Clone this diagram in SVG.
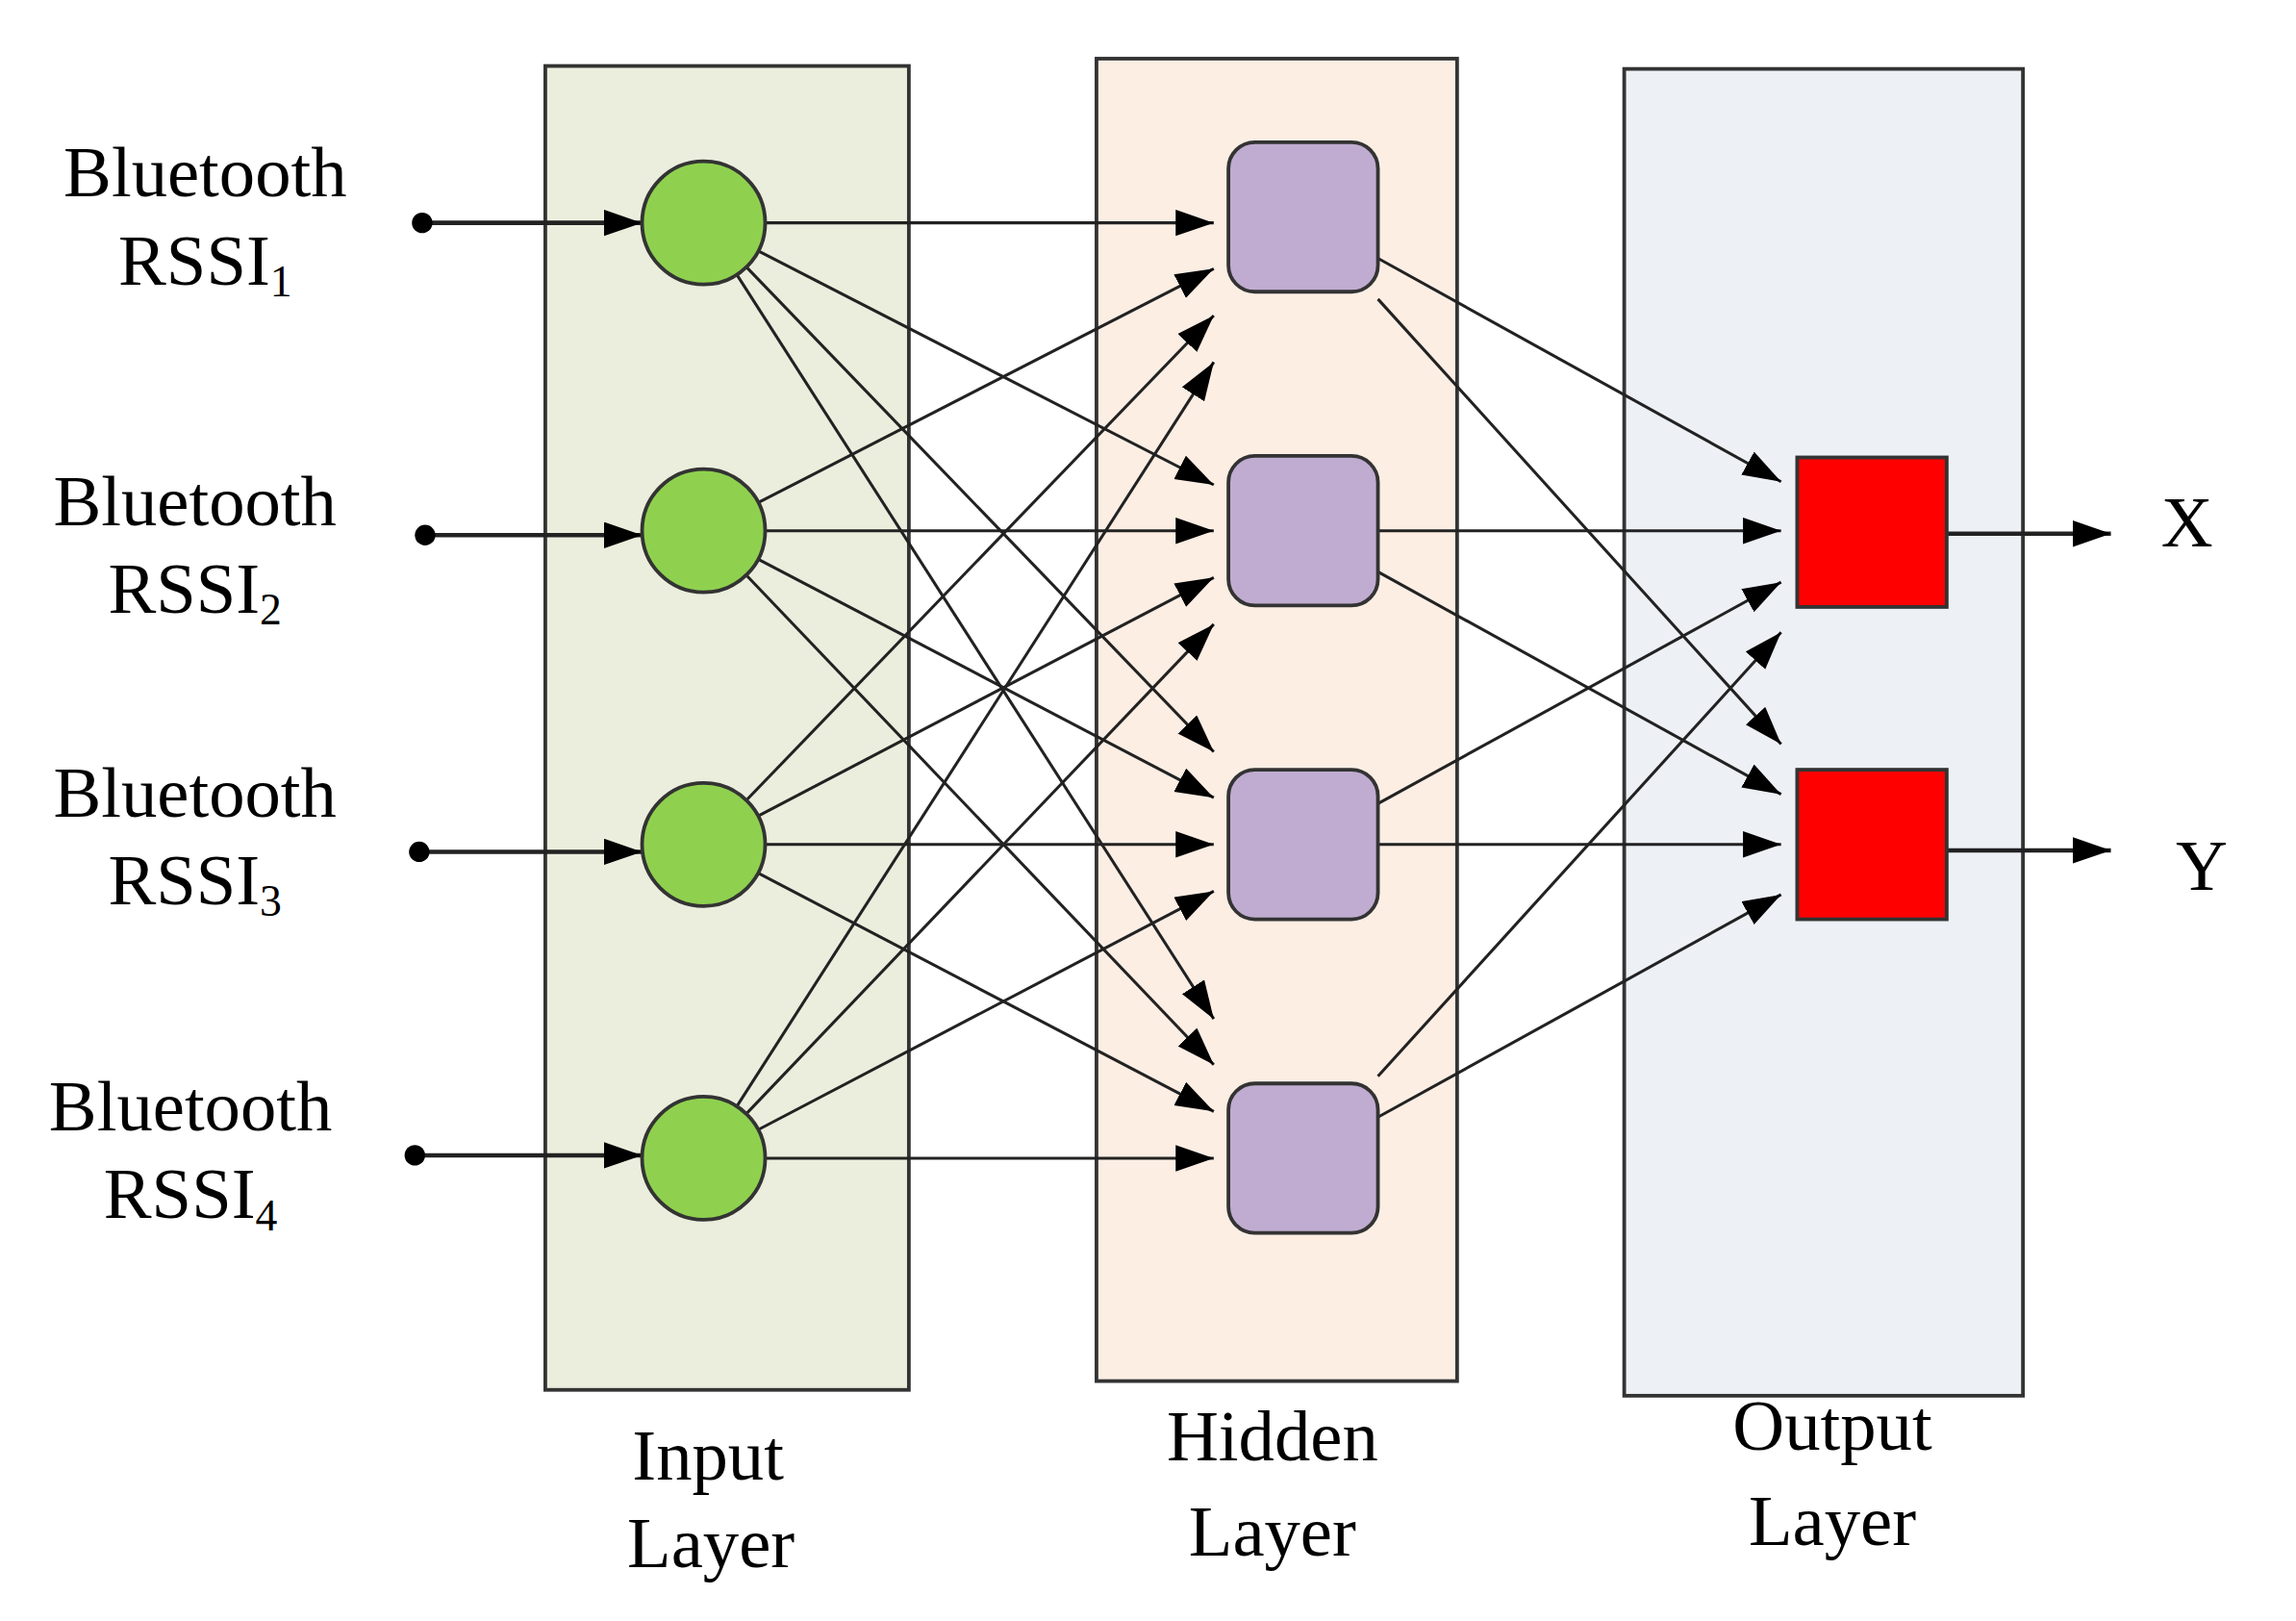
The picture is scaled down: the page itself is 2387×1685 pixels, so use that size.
<svg xmlns="http://www.w3.org/2000/svg" width="2387" height="1685" viewBox="0 0 2387 1685">
<style>
.t{font-family:"Liberation Serif",serif;font-size:49px;fill:#000}
.s{font-size:30px}
.c line{stroke:#222;stroke-width:2;marker-end:url(#a)}
.c .in{stroke-width:3}
</style>
<defs>
<marker id="a" markerUnits="userSpaceOnUse" markerWidth="30" markerHeight="20" refX="26" refY="9" orient="auto"><path d="M0,0 L26,9 L0,18 z" fill="#000"/></marker>
</defs>
<rect width="2387" height="1685" fill="#fff"/>
<g transform="scale(1.524)">
<g id="layers" stroke="#333" stroke-width="2.5">
<rect x="372" y="45" width="248" height="903" fill="#ebeedd"/>
<rect x="748" y="40" width="246" height="902" fill="#fdeee4"/>
<rect x="1108" y="47" width="272" height="905" fill="#edf0f5"/>
</g>
<g class="c" id="connectors">
<line x1="522" y1="152" x2="828" y2="152"/>
<line x1="517.3" y1="171.2" x2="828" y2="330.7"/>
<line x1="509.2" y1="182.2" x2="828" y2="512.8"/>
<line x1="502.6" y1="187.3" x2="828" y2="695"/>
<line x1="517.3" y1="342.8" x2="828" y2="183.3"/>
<line x1="522" y1="362" x2="828" y2="362"/>
<line x1="517.3" y1="381.5" x2="828" y2="544.1"/>
<line x1="509.2" y1="392.4" x2="828" y2="726.2"/>
<line x1="509.2" y1="545.8" x2="828" y2="215.2"/>
<line x1="517.3" y1="556.5" x2="828" y2="393.9"/>
<line x1="522" y1="576" x2="828" y2="576"/>
<line x1="517.3" y1="595.5" x2="828" y2="758.1"/>
<line x1="502.6" y1="754.7" x2="828" y2="247"/>
<line x1="509.2" y1="759.6" x2="828" y2="425.8"/>
<line x1="517.3" y1="770.5" x2="828" y2="607.9"/>
<line x1="522" y1="790" x2="828" y2="790"/>
<line x1="940" y1="176.2" x2="1215" y2="328.6"/>
<line x1="940" y1="204" x2="1215" y2="507.5"/>
<line x1="940" y1="362" x2="1215" y2="362"/>
<line x1="940" y1="390" x2="1215" y2="541.8"/>
<line x1="940" y1="548.1" x2="1215" y2="397.1"/>
<line x1="940" y1="576" x2="1215" y2="576"/>
<line x1="940" y1="734.1" x2="1215" y2="431.3"/>
<line x1="940" y1="762" x2="1215" y2="610.2"/>
<line class="in" x1="288" y1="152" x2="438" y2="152"/>
<line class="in" x1="290" y1="365" x2="438" y2="365"/>
<line class="in" x1="286" y1="581" x2="438" y2="581"/>
<line class="in" x1="283" y1="788" x2="438" y2="788"/>
<line class="in" x1="1328" y1="364" x2="1440" y2="364"/>
<line class="in" x1="1328" y1="580" x2="1440" y2="580"/>
<circle cx="288" cy="152" r="7"/><circle cx="290" cy="365" r="7"/><circle cx="286" cy="581" r="7"/><circle cx="283" cy="788" r="7"/>
</g>
<g id="inputs" fill="#8fd14f" stroke="#333" stroke-width="2.5">
<circle cx="480" cy="152" r="42"/><circle cx="480" cy="362" r="42"/><circle cx="480" cy="576" r="42"/><circle cx="480" cy="790" r="42"/>
</g>
<g id="hidden" fill="#c0acd0" stroke="#333" stroke-width="2.5">
<rect x="838" y="97" width="102" height="102" rx="18"/><rect x="838" y="311" width="102" height="102" rx="18"/><rect x="838" y="525" width="102" height="102" rx="18"/><rect x="838" y="739" width="102" height="102" rx="18"/>
</g>
<g id="outputs" fill="#ff0000" stroke="#333" stroke-width="2.5">
<rect x="1226" y="312" width="102" height="102"/><rect x="1226" y="525" width="102" height="102"/>
</g>
<g id="labels" class="t" text-anchor="middle">
<text x="140" y="134">Bluetooth</text><text x="140" y="194">RSSI<tspan class="s" dy="8">1</tspan></text>
<text x="133" y="358">Bluetooth</text><text x="133" y="418">RSSI<tspan class="s" dy="8">2</tspan></text>
<text x="133" y="557">Bluetooth</text><text x="133" y="617">RSSI<tspan class="s" dy="8">3</tspan></text>
<text x="130" y="771">Bluetooth</text><text x="130" y="831">RSSI<tspan class="s" dy="8">4</tspan></text>
<text x="1492" y="373">X</text><text x="1502" y="607">Y</text>
<text x="483" y="1009">Input</text><text x="485" y="1069">Layer</text>
<text x="868" y="996">Hidden</text><text x="868" y="1061">Layer</text>
<text x="1250" y="989">Output</text><text x="1250" y="1054">Layer</text>
</g>
</g>
</svg>
